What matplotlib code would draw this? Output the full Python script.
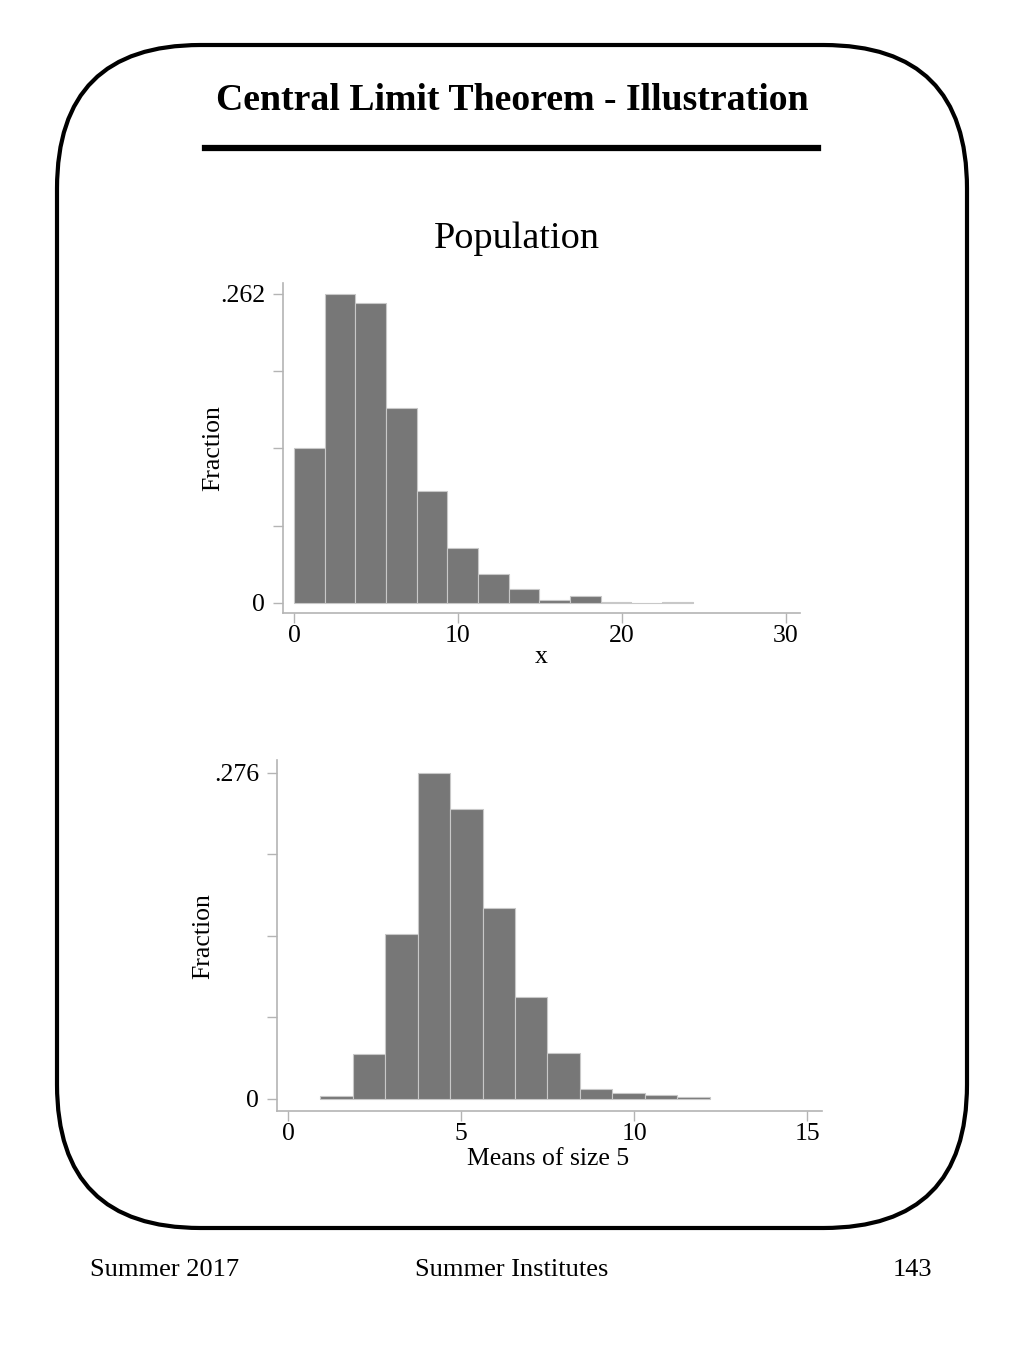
"""
Central Limit Theorem slide: population histogram vs. histogram of sample means
"""

import matplotlib.pyplot as plt
from matplotlib.patches import FancyBboxPatch
from matplotlib.lines import Line2D

# ── Data ──────────────────────────────────────
pop_start = 0.0
pop_width = 1.87
pop_frac = [0.131, 0.262, 0.2544, 0.1657, 0.0951, 0.0463, 0.0243, 0.0121,
            0.0028, 0.0062, 0.0008, 0.0, 0.0008]
pop_yticks = [0, 0.262]
pop_xticks = [0, 10, 20, 30]

mean_start = 0.935
mean_width = 0.937
mean_frac = [0.0022, 0.0379, 0.1397, 0.276, 0.2454, 0.1613, 0.0864, 0.0387,
             0.0084, 0.005, 0.0034, 0.0017]
mean_yticks = [0, 0.276]
mean_xticks = [0, 5, 10, 15]

SERIF = ["Liberation Serif", "DejaVu Serif"]
BAR = "#777777"
AXC = "#b4b4b4"
FS = 18.5

plt.rcParams["font.family"] = SERIF

fig = plt.figure(figsize=(10.24, 13.65), dpi=100)

# ── Slide frame ───────────────────────────────
frame = FancyBboxPatch((57 / 1024, 1 - 1228 / 1365), (967 - 57) / 1024, (1228 - 45) / 1365,
                       boxstyle="round,pad=0,rounding_size=0.14",
                       transform=fig.transFigure, fill=False, lw=3, ec="black",
                       mutation_aspect=1024 / 1365)
fig.patches.append(frame)

fig.text(0.5, 1 - 101 / 1365, "Central Limit Theorem - Illustration", ha="center", va="center",
         fontsize=27.2, fontweight="bold")
fig.add_artist(Line2D([205 / 1024, 818 / 1024], [1 - 148 / 1365] * 2, color="black", lw=4.5,
                      transform=fig.transFigure))
fig.text(517 / 1024, 1 - 239 / 1365, "Population", ha="center", va="center", fontsize=27.5)

fig.text(90 / 1024, 1 - 1270 / 1365, "Summer 2017", ha="left", va="center", fontsize=19)
fig.text(0.5, 1 - 1270 / 1365, "Summer Institutes", ha="center", va="center", fontsize=19)
fig.text(932 / 1024, 1 - 1270 / 1365, "143", ha="right", va="center", fontsize=19)


def histo(ax, start, width, frac, yticks, xticks, xlim, ylim, xlabel, ylab_xy, xlab_xy):
    lefts = [start + i * width for i in range(len(frac))]
    ax.bar(lefts, frac, width=width, align="edge", color=BAR, edgecolor="#c8c8c8", lw=0.8)
    ax.set_xlim(*xlim)
    ax.set_ylim(*ylim)
    top = yticks[-1]
    ax.set_yticks([top * k / 4 for k in range(5)])
    ax.set_yticklabels(["0", "", "", "", ("%.3f" % top).lstrip("0")])
    ax.set_xticks(xticks)
    ax.set_xticklabels([str(v) for v in xticks])
    for s in ["top", "right"]:
        ax.spines[s].set_visible(False)
    for s in ["left", "bottom"]:
        ax.spines[s].set_color(AXC)
        ax.spines[s].set_linewidth(1.2)
    ax.tick_params(axis="both", colors=AXC, labelcolor="black", length=7, width=1.0,
                   labelsize=FS)
    ax.tick_params(axis="y", pad=6)
    ax.tick_params(axis="x", pad=1.5)
    ax.set_ylabel("Fraction", fontsize=FS, va="center")
    ax.set_xlabel(xlabel, fontsize=FS, va="center")
    ax.yaxis.set_label_coords(*ylab_xy)
    ax.xaxis.set_label_coords(*xlab_xy)


# 1. Population
ax1 = fig.add_axes([283 / 1024, 1 - 613 / 1365, 517 / 1024, 330 / 1365])
histo(ax1, pop_start, pop_width, pop_frac, pop_yticks, pop_xticks,
      (-0.67, 30.85), (-0.0085, 0.2713), "x", (-0.135, 0.5), (0.5, -0.133))

# 2. Means of size 5
ax2 = fig.add_axes([277 / 1024, 1 - 1111 / 1365, 545 / 1024, 351 / 1365])
histo(ax2, mean_start, mean_width, mean_frac, mean_yticks, mean_xticks,
      (-0.32, 15.43), (-0.0102, 0.287), "Means of size 5", (-0.136, 0.4986), (0.497, -0.136))

plt.savefig("out.png", dpi=100)
